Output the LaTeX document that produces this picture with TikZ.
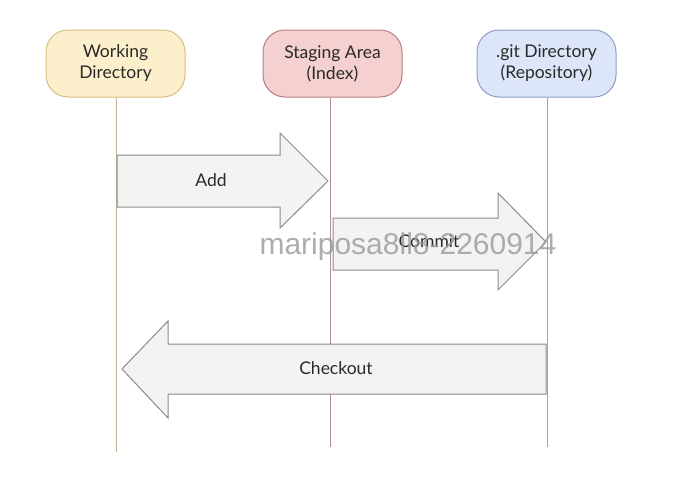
\documentclass[tikz,border=0pt]{standalone}
\usepackage{fontspec}
\setmainfont{Lato}
\newfontfamily\wmfont{Liberation Sans}
\usetikzlibrary{positioning,calc}
\definecolor{wdfill}{HTML}{FCF0CC}
\definecolor{wddraw}{HTML}{D8BE84}
\definecolor{safill}{HTML}{F4D0D0}
\definecolor{sadraw}{HTML}{B88080}
\definecolor{gdfill}{HTML}{DDE6F8}
\definecolor{gddraw}{HTML}{8E9EC4}
\definecolor{arfill}{HTML}{F3F3F3}
\definecolor{ardraw}{HTML}{8C8C8C}
\definecolor{wdline}{HTML}{C4B494}
\definecolor{saline}{HTML}{B08A8E}
\definecolor{gdline}{HTML}{A4A4A8}
\definecolor{txt}{HTML}{2A2A2A}
\tikzset{
  actor/.style={rounded corners=22pt, minimum width=139pt, minimum height=67pt,
    align=center, font=\fontsize{17.5}{21}\selectfont, text=txt, line width=1pt},
  life/.style={line width=0.8pt},
  bigarrow/.style={fill=arfill, draw=ardraw, line width=1pt, line join=miter},
  arlabel/.style={font=\fontsize{17.5}{21}\selectfont, text=txt},
}
\begin{document}
\begin{tikzpicture}[x=1pt,y=-1pt]
\useasboundingbox[fill=white] (0,0) rectangle (686,488);
% actors
\node[actor, fill=wdfill, draw=wddraw] (wd) at (115.5,63.5) {Working\\Directory};
\node[actor, fill=safill, draw=sadraw] (sa) at (332.5,63.5) {Staging Area\\(Index)};
\node[actor, fill=gdfill, draw=gddraw] (gd) at (546.5,63.5) {.git Directory\\(Repository)};
% lifeline ends
\coordinate (wdE) at (116,452);
\coordinate (saE) at (330,447);
\coordinate (gdE) at (547,447);
\draw[life, wdline] (wd.south -| wdE) -- (wdE);
\draw[life, saline] (sa.south -| saE) -- (saE);
\draw[life, gdline] (gd.south -| gdE) -- (gdE);
% Add arrow
\draw[bigarrow] (117,155) -- (280,155) -- (280,133) -- (328,181) -- (280,228) -- (280,207) -- (117,207) -- cycle;
\node[arlabel] (add) at (211,180) {Add};
% Commit arrow
\draw[bigarrow] (333,218) -- (498,218) -- (498,193) -- (546,242) -- (498,290) -- (498,270) -- (333,270) -- cycle;
\node[arlabel] (commit) at (429,241) {Commit};
% Checkout arrow
\draw[bigarrow] (546,344) -- (168,344) -- (168,321) -- (122,369) -- (168,418) -- (168,394) -- (546,394) -- cycle;
\node[arlabel] (checkout) at (336,368) {Checkout};
% watermark
\node[font=\wmfont\fontsize{30}{30}\selectfont, text=black!40, opacity=0.8] (wm) at (408,247) {mariposa8ll8-2260914};
\end{tikzpicture}
\end{document}
